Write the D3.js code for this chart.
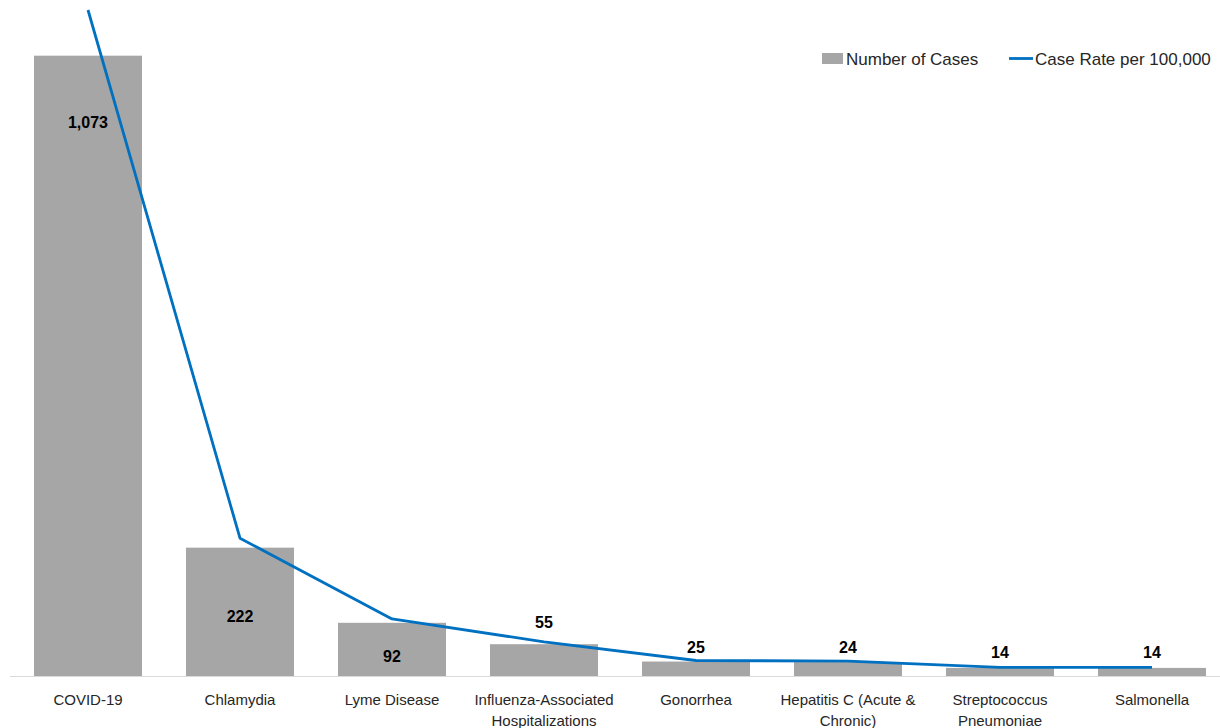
<!DOCTYPE html>
<html>
<head>
<meta charset="utf-8">
<script src="https://cdn.jsdelivr.net/npm/d3@7"></script>
<style>
  html, body { margin: 0; padding: 0; background: #fff; }
  svg { display: block; }
</style>
</head>
<body>
<svg id="chart" width="1220" height="728"></svg>
<script>
// ---- data ----
const categories = [
  "COVID-19",
  "Chlamydia",
  "Lyme Disease",
  "Influenza-Associated Hospitalizations",
  "Gonorrhea",
  "Hepatitis C (Acute & Chronic)",
  "Streptococcus Pneumoniae",
  "Salmonella"
];
const numberOfCases = [1073, 222, 92, 55, 25, 24, 14, 14];
const caseRatePer100k = [1331.3, 275.4, 114.1, 68.2, 31.0, 29.8, 17.4, 17.4];
const seriesNames = ["Number of Cases", "Case Rate per 100,000"];

// ---- layout ----
const W = 1220, H = 728;
const plotTop = 10, baseline = 676;
const barColor = "#a6a6a6", lineColor = "#0070c0";
const sansFont = "'Liberation Sans', Arial, sans-serif";

const svg = d3.select("#chart");

const x = d3.scaleBand()
  .domain(categories)
  .range([12, 1228])
  .paddingInner(44 / 152)
  .paddingOuter(22 / 152);

const y = d3.scaleLinear().domain([0, 1152]).range([baseline, plotTop]);
const y2 = d3.scaleLinear().domain([0, 1331.3]).range([baseline, plotTop]);

// axis baseline
svg.append("line")
  .attr("x1", 10).attr("x2", W)
  .attr("y1", baseline + 0.5).attr("y2", baseline + 0.5)
  .attr("stroke", "#d9d9d9").attr("stroke-width", 1);

// bars
svg.append("g").selectAll("rect")
  .data(categories)
  .join("rect")
  .attr("x", d => x(d))
  .attr("width", x.bandwidth())
  .attr("y", (d, i) => y(numberOfCases[i]))
  .attr("height", (d, i) => baseline - y(numberOfCases[i]))
  .attr("fill", barColor);

// line
const line = d3.line()
  .x((d, i) => x(categories[i]) + x.bandwidth() / 2)
  .y(d => y2(d));
svg.append("path")
  .datum(caseRatePer100k)
  .attr("d", line)
  .attr("fill", "none")
  .attr("stroke", lineColor)
  .attr("stroke-width", 2.8)
  .attr("stroke-linejoin", "round");

// data labels (manually placed in original: inside for large bars, above for small)
const labelOffset = [66, 68, 33, -22, -15, -15, -16, -16]; // relative to bar top (label centre)
svg.append("g").selectAll("text")
  .data(categories)
  .join("text")
  .attr("x", d => x(d) + x.bandwidth() / 2)
  .attr("y", (d, i) => y(numberOfCases[i]) + labelOffset[i] + 6)
  .attr("text-anchor", "middle")
  .attr("font-family", sansFont)
  .attr("font-weight", "bold")
  .attr("font-size", 16)
  .attr("fill", "#000")
  .text((d, i) => d3.format(",")(numberOfCases[i]));

// category labels with wrapping
const catG = svg.append("g")
  .attr("font-family", sansFont)
  .attr("font-size", 15)
  .attr("fill", "#262626");
categories.forEach(c => {
  const cx = x(c) + x.bandwidth() / 2;
  const t = catG.append("text")
    .attr("x", cx)
    .attr("y", 704.5)
    .attr("text-anchor", "middle");
  const words = c.split(" ");
  let lineWords = [];
  let tspan = t.append("tspan").attr("x", cx).attr("dy", 0);
  words.forEach(w => {
    lineWords.push(w);
    tspan.text(lineWords.join(" "));
    if (tspan.node().getComputedTextLength() > 146 && lineWords.length > 1) {
      lineWords.pop();
      tspan.text(lineWords.join(" "));
      lineWords = [w];
      tspan = t.append("tspan").attr("x", cx).attr("dy", 21).text(w);
    }
  });
});

// legend
const lg = svg.append("g").attr("font-family", sansFont).attr("font-size", 17).attr("fill", "#262626");
lg.append("rect").attr("x", 822).attr("y", 53).attr("width", 21).attr("height", 11).attr("fill", barColor);
lg.append("text").attr("x", 846).attr("y", 64.5).text(seriesNames[0]);
lg.append("line").attr("x1", 1009).attr("x2", 1033).attr("y1", 58.5).attr("y2", 58.5)
  .attr("stroke", lineColor).attr("stroke-width", 2.8);
lg.append("text").attr("x", 1035).attr("y", 64.5).text(seriesNames[1]);
</script>
</body>
</html>
